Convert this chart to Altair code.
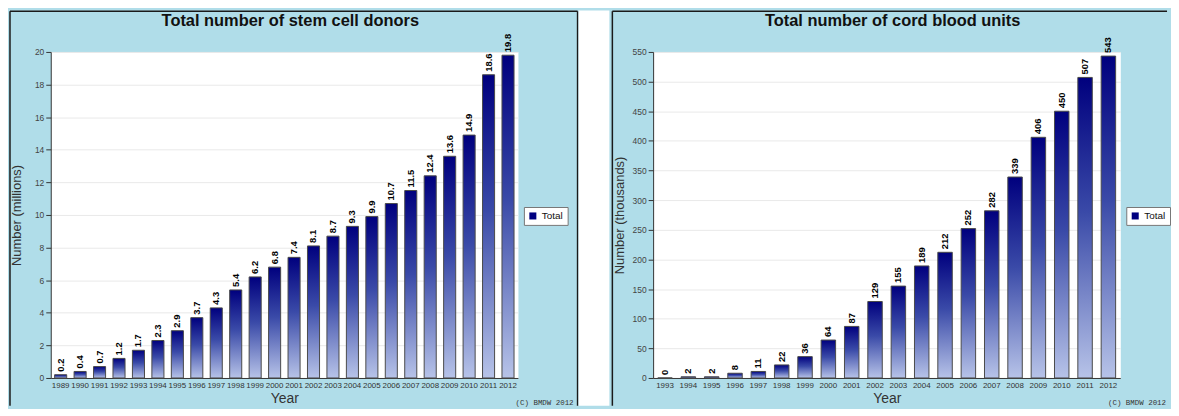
import altair as alt
import pandas as pd

# ---------------- data ----------------
donor_years = ["1989", "1990", "1991", "1992", "1993", "1994", "1995", "1996",
               "1997", "1998", "1999", "2000", "2001", "2002", "2003", "2004",
               "2005", "2006", "2007", "2008", "2009", "2010", "2011", "2012"]
donor_values = [0.2, 0.4, 0.7, 1.2, 1.7, 2.3, 2.9, 3.7, 4.3, 5.4, 6.2, 6.8,
                7.4, 8.1, 8.7, 9.3, 9.9, 10.7, 11.5, 12.4, 13.6, 14.9, 18.6, 19.8]
donor_ticks = [0, 2, 4, 6, 8, 10, 12, 14, 16, 18, 20]

cord_years = ["1993", "1994", "1995", "1996", "1997", "1998", "1999", "2000",
              "2001", "2002", "2003", "2004", "2005", "2006", "2007", "2008",
              "2009", "2010", "2011", "2012"]
cord_values = [0, 2, 2, 8, 11, 22, 36, 64, 87, 129, 155, 189, 212, 252, 282,
               339, 406, 450, 507, 543]
cord_ticks = [0, 50, 100, 150, 200, 250, 300, 350, 400, 450, 500, 550]

series_name = "Total"
copyright_text = "(C) BMDW 2012"

# ---------------- style ----------------
W, H = 470, 328
BG = "#b0dde9"
FONT = "Liberation Sans"
TOP = -41          # panel border line, relative to plot area
BOTTOM = H + 28    # lower edge of the drawing

gradient = alt.LinearGradient(
    gradient="linear",
    stops=[alt.GradientStop(color="#00007e", offset=0),
           alt.GradientStop(color="#3a4aa8", offset=0.45),
           alt.GradientStop(color="#b7c3e8", offset=1)],
    x1=0, x2=0, y1=0, y2=1,
)


def rule(x, x2, y, y2):
    one = pd.DataFrame({"k": [0]})
    return alt.Chart(one).mark_rule(color="#1a1a1a", strokeWidth=1.5).encode(
        x=alt.value(x), x2=alt.value(x2), y=alt.value(y), y2=alt.value(y2))


def panel(years, values, ticks, ymax, title, ytitle, fmt, is_left):
    df = pd.DataFrame({"Year": years, "Value": values, "Series": series_name})
    one = pd.DataFrame({"k": [0]})
    base = alt.Chart(df)

    x = alt.X("Year:O", sort=years,
              scale=alt.Scale(paddingInner=0.38, paddingOuter=0.2),
              axis=alt.Axis(title="Year", labelAngle=0, ticks=False,
                            labelFont=FONT, labelFontSize=8, labelColor="#333",
                            labelPadding=4, domainColor="#333",
                            titleFont=FONT, titleFontSize=14,
                            titleFontWeight="normal", titleColor="#333",
                            titleX=W / 2, titleY=21, titleAlign="center",
                            titleBaseline="middle"))
    y = alt.Y("Value:Q",
              scale=alt.Scale(domain=[0, ymax], nice=False),
              axis=alt.Axis(title=ytitle, values=ticks, grid=True,
                            gridColor="#e9e9e9", labelFont=FONT,
                            labelFontSize=8.5, labelColor="#444",
                            tickColor="#333", tickSize=5, labelPadding=2,
                            domainColor="#333", titleFont=FONT,
                            titleFontSize=13, titleFontWeight="normal",
                            titleColor="#333", titleX=-34, titleY=H / 2,
                            titleAngle=270, titleAlign="center",
                            titleBaseline="middle"))

    title_mark = alt.Chart(one).mark_text(
        text=title, font=FONT, fontSize=16.5, fontWeight="bold",
        color="#111", align="center", baseline="middle"
    ).encode(x=alt.value(W / 2 + 6), y=alt.value(-31))

    bars = base.mark_bar(fill=gradient, stroke="#4a4a4a", strokeWidth=1).encode(x=x, y=y)

    labels = base.mark_text(
        angle=270, align="left", baseline="middle", font=FONT,
        fontSize=9.5, fontWeight="bold", color="#000", yOffset=-3
    ).encode(x=x, y=y, text=alt.Text("Value:Q", format=fmt))

    legend_pts = base.mark_square(opacity=0, size=50).encode(
        x=x, y=y,
        color=alt.Color("Series:N",
                        scale=alt.Scale(domain=[series_name], range=["#000080"]),
                        legend=alt.Legend(title=None, orient="none",
                                          legendX=W + 6, legendY=156,
                                          fillColor="white", strokeColor="#777",
                                          padding=4, symbolType="square",
                                          symbolSize=50, symbolOpacity=1,
                                          labelFont=FONT, labelFontSize=10,
                                          labelColor="#111")))

    if is_left:
        right_edge = W + 60
        frame = [rule(-41, right_edge, TOP, TOP),
                 rule(-41, -41, TOP, BOTTOM),
                 rule(right_edge, right_edge, TOP, BOTTOM)]
        gap = [alt.Chart(one).mark_rect(fill="white").encode(
            x=alt.value(W + 61), x2=alt.value(W + 92),
            y=alt.value(TOP - 0.75), y2=alt.value(BOTTOM))]
        copy_x = W + 56
    else:
        right_edge = W + 47
        frame = [rule(-41, right_edge, TOP, TOP),
                 rule(-41, -41, TOP, BOTTOM)]
        gap = []
        copy_x = W + 46

    copyright_mark = alt.Chart(one).mark_text(
        text=copyright_text, font="Liberation Mono", fontSize=7.5,
        color="#333", align="right", baseline="alphabetic"
    ).encode(x=alt.value(copy_x), y=alt.value(BOTTOM - 1))

    layers = frame + [title_mark, bars, labels, legend_pts, copyright_mark] + gap
    return alt.layer(*layers).properties(width=W, height=H)


left = panel(donor_years, donor_values, donor_ticks, 20,
             "Total number of stem cell donors", "Number (millions)", ".1f", True)
right = panel(cord_years, cord_values, cord_ticks, 550,
              "Total number of cord blood units", "Number (thousands)", "d", False)

chart = alt.hconcat(left, right, spacing=0).resolve_scale(
    color="independent"
).properties(padding=0).configure(background=BG).configure_view(
    fill="white", stroke="transparent"
)

chart.save("out.html", embed_options={"renderer": "svg", "actions": False})
